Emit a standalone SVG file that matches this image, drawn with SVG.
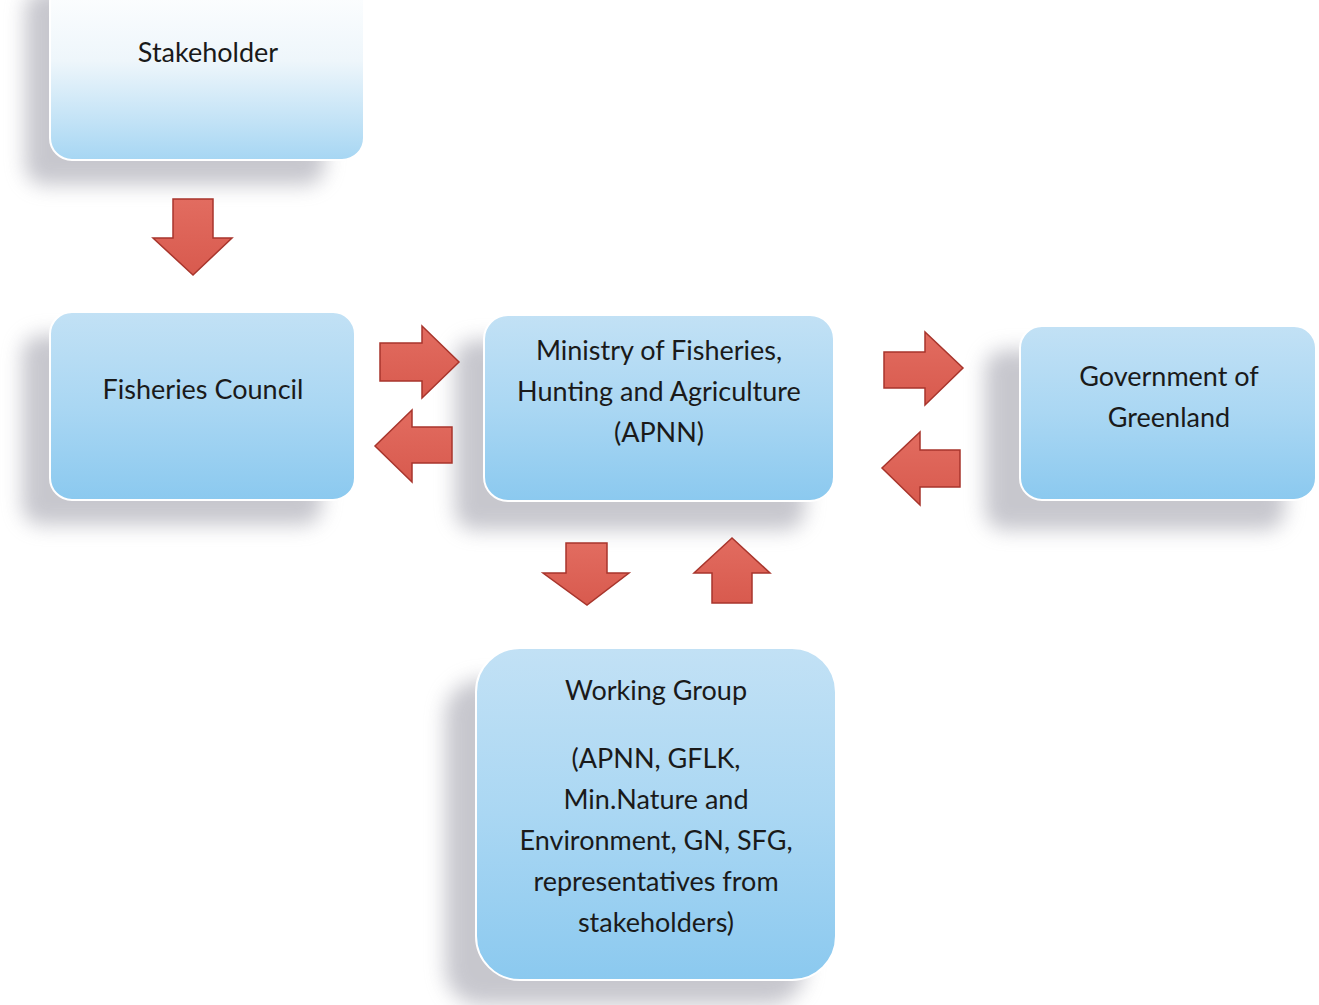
<svg xmlns="http://www.w3.org/2000/svg" width="1319" height="1005" viewBox="0 0 1319 1005">
  <defs>
    <linearGradient id="boxFill" x1="0" y1="0" x2="0" y2="1">
      <stop offset="0" stop-color="#c2e1f5"/>
      <stop offset="0.5" stop-color="#aad7f3"/>
      <stop offset="1" stop-color="#8bc9ef"/>
    </linearGradient>
    <linearGradient id="stakeFill" x1="0" y1="0" x2="0" y2="1">
      <stop offset="0" stop-color="#ffffff"/>
      <stop offset="0.45" stop-color="#eef6fb"/>
      <stop offset="1" stop-color="#a6d6f3"/>
    </linearGradient>
    <linearGradient id="arrowFill" x1="0" y1="0" x2="0" y2="1">
      <stop offset="0" stop-color="#e26c60"/>
      <stop offset="1" stop-color="#d85a4e"/>
    </linearGradient>
    <filter id="shadow" x="-30%" y="-30%" width="160%" height="160%">
      <feGaussianBlur stdDeviation="10"/>
    </filter>
    <style>
      .box { stroke: #ffffff; stroke-width: 2; }
      .shadow { fill: #9a9aa6; opacity: 0.55; filter: url(#shadow); }
      .label { font-family: Lato, "Open Sans", "Liberation Sans", sans-serif; font-size: 27px; fill: #1a1a1a; text-anchor: middle; }
      .arrow { fill: url(#arrowFill); stroke: #a8352c; stroke-width: 1.5; stroke-linejoin: miter; }
    </style>
  </defs>

  <g id="node-stakeholder">
    <rect class="shadow" x="25" y="-10" width="300" height="195" rx="20"/>
    <rect class="box" x="50" y="-20" width="314" height="180" rx="22" fill="url(#stakeFill)"/>
    <text class="label" x="208" y="62">Stakeholder</text>
  </g>

  <g id="node-fisheries-council">
    <rect class="shadow" x="22" y="335" width="300" height="190" rx="20"/>
    <rect class="box" x="50" y="312" width="305" height="188" rx="22" fill="url(#boxFill)"/>
    <text class="label" x="203" y="399">Fisheries Council</text>
  </g>

  <g id="node-ministry">
    <rect class="shadow" x="455" y="340" width="350" height="190" rx="20"/>
    <rect class="box" x="484" y="315" width="350" height="186" rx="24" fill="url(#boxFill)"/>
    <text class="label" x="659" y="360">Ministry of Fisheries,</text>
    <text class="label" x="659" y="401">Hunting and Agriculture</text>
    <text class="label" x="659" y="442">(APNN)</text>
  </g>

  <g id="node-government">
    <rect class="shadow" x="985" y="350" width="300" height="180" rx="20"/>
    <rect class="box" x="1020" y="326" width="296" height="174" rx="22" fill="url(#boxFill)"/>
    <text class="label" x="1169" y="386">Government of</text>
    <text class="label" x="1169" y="427">Greenland</text>
  </g>

  <g id="node-working-group">
    <rect class="shadow" x="445" y="680" width="360" height="325" rx="36"/>
    <rect class="box" x="476" y="648" width="360" height="332" rx="44" fill="url(#boxFill)"/>
    <text class="label" x="656" y="700">Working Group</text>
    <text class="label" x="656" y="768">(APNN, GFLK,</text>
    <text class="label" x="656" y="809">Min.Nature and</text>
    <text class="label" x="656" y="850">Environment, GN, SFG,</text>
    <text class="label" x="656" y="891">representatives from</text>
    <text class="label" x="656" y="932">stakeholders)</text>
  </g>

  <g id="connectors">
    <!-- Stakeholder -> Fisheries Council -->
    <polygon class="arrow" points="173,199 213,199 213,238 232,238 193,275 153,238 173,238"/>
    <!-- Fisheries Council -> Ministry -->
    <polygon class="arrow" points="380,343 422,343 422,326 459,362 422,398 422,381 380,381"/>
    <!-- Ministry -> Fisheries Council -->
    <polygon class="arrow" points="452,427 412,427 412,410 375,446 412,482 412,463 452,463"/>
    <!-- Ministry -> Government -->
    <polygon class="arrow" points="884,352 925,352 925,332 963,368 925,405 925,388 884,388"/>
    <!-- Government -> Ministry -->
    <polygon class="arrow" points="960,450 920,450 920,432 882,468 920,505 920,487 960,487"/>
    <!-- Ministry -> Working Group -->
    <polygon class="arrow" points="566,543 607,543 607,573 629,573 587,605 543,573 566,573"/>
    <!-- Working Group -> Ministry -->
    <polygon class="arrow" points="712,603 752,603 752,573 770,573 732,538 694,573 712,573"/>
  </g>
</svg>
